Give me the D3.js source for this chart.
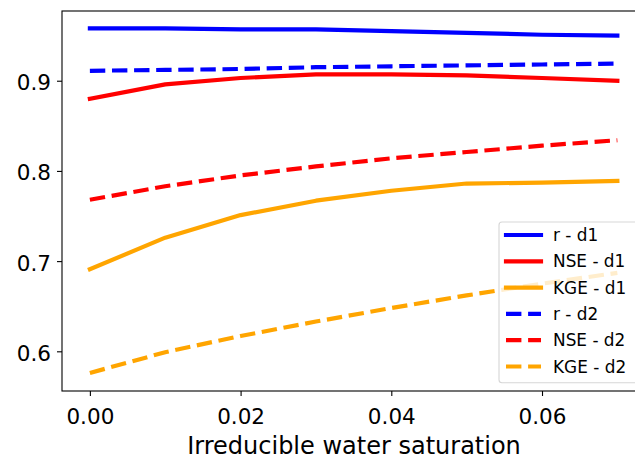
<!DOCTYPE html>
<head>
<meta charset="utf-8">
<title>Irreducible water saturation</title>
<style>
body {
  margin: 0;
  background: #fff;
  font-family: "DejaVu Sans", sans-serif;
}
.axis text {
  font-family: "DejaVu Sans", sans-serif;
  font-size: 21.5px;
  fill: #000;
}
.axis line {
  stroke: #000;
  stroke-width: 1.1;
}
.legend text {
  font-size: 16.9px;
  fill: #000;
}
</style>
<script src="https://d3js.org/d3.v7.min.js"></script>
</head>
<body>
<script>
// data
var saturation = [0, 0.01, 0.02, 0.03, 0.04, 0.05, 0.06, 0.07];
var rD1   = [0.958, 0.958, 0.957, 0.957, 0.955, 0.953, 0.951, 0.950];
var nseD1 = [0.880, 0.896, 0.903, 0.907, 0.907, 0.906, 0.903, 0.900];
var kgeD1 = [0.691, 0.726, 0.751, 0.767, 0.778, 0.786, 0.787, 0.789];
var rD2   = [0.911, 0.912, 0.913, 0.915, 0.916, 0.917, 0.918, 0.919];
var nseD2 = [0.768, 0.783, 0.795, 0.805, 0.814, 0.821, 0.828, 0.834];
var kgeD2 = [0.576, 0.599, 0.617, 0.633, 0.648, 0.662, 0.675, 0.687];
var xTicks = [0, 0.02, 0.04, 0.06];
var yTicks = [0.6, 0.7, 0.8, 0.9];

var series = [
  { name: "r - d1",   values: rD1,   color: "blue",   dashed: false },
  { name: "NSE - d1", values: nseD1, color: "red",    dashed: false },
  { name: "KGE - d1", values: kgeD1, color: "orange", dashed: false },
  { name: "r - d2",   values: rD2,   color: "blue",   dashed: true },
  { name: "NSE - d2", values: nseD2, color: "red",    dashed: true },
  { name: "KGE - d2", values: kgeD2, color: "orange", dashed: true }
];

var width = 635, height = 459;
// plot box (right edge sits past the window, as in the cropped original)
var boxLeft = 62, boxRight = 646, boxTop = 11, boxBottom = 391;

var svg = d3.select("body").append("svg")
    .attr("width", width)
    .attr("height", height);

var xScale = d3.scaleLinear().domain([-0.0037, 0.0738]).range([boxLeft, boxRight]);
var yScale = d3.scaleLinear().domain([0.556, 0.9773]).range([boxBottom, boxTop]);

// lines
var line = d3.line()
    .x(function(d, i) { return xScale(saturation[i]); })
    .y(function(d) { return yScale(d); });

svg.selectAll(".series")
    .data(series)
    .enter().append("path")
    .attr("class", "series")
    .attr("d", function(d) { return line(d.values); })
    .attr("fill", "none")
    .attr("stroke", function(d) { return d.color; })
    .attr("stroke-width", 4.17)
    .attr("stroke-linejoin", "round")
    .attr("stroke-linecap", function(d) { return d.dashed ? "butt" : "square"; })
    .attr("stroke-dasharray", function(d) { return d.dashed ? "15.4,6.7" : null; });

// spines
svg.append("rect")
    .attr("x", boxLeft).attr("y", boxTop)
    .attr("width", boxRight - boxLeft).attr("height", boxBottom - boxTop)
    .attr("fill", "none")
    .attr("stroke", "#000")
    .attr("stroke-width", 1.1);

// axes
var xAxis = d3.axisBottom(xScale)
    .tickValues(xTicks)
    .tickFormat(d3.format(".2f"))
    .tickSize(5)
    .tickSizeOuter(0);
var yAxis = d3.axisLeft(yScale)
    .tickValues(yTicks)
    .tickFormat(d3.format(".1f"))
    .tickSize(5)
    .tickPadding(6)
    .tickSizeOuter(0);

var gx = svg.append("g")
    .attr("class", "axis")
    .attr("transform", "translate(0," + boxBottom + ")")
    .call(xAxis);
gx.select(".domain").remove();
gx.selectAll("text").attr("y", 33).attr("dy", 0);

var gy = svg.append("g")
    .attr("class", "axis")
    .attr("transform", "translate(" + boxLeft + ",0)")
    .call(yAxis);
gy.select(".domain").remove();
gy.selectAll("text").attr("dy", "9px");

svg.append("text")
    .attr("x", (boxLeft + boxRight) / 2)
    .attr("y", 454)
    .attr("text-anchor", "middle")
    .style("font-size", "24px")
    .style("fill", "#000")
    .text("Irreducible water saturation");

// legend
var legend = svg.append("g").attr("class", "legend");
legend.append("rect")
    .attr("x", 499).attr("y", 222)
    .attr("width", 138.7).attr("height", 160.7)
    .attr("rx", 3)
    .attr("fill", "#fff").attr("fill-opacity", 0.8)
    .attr("stroke", "#ccc").attr("stroke-opacity", 0.8)
    .attr("stroke-width", 1.1);

var rows = legend.selectAll(".row")
    .data(series)
    .enter().append("g")
    .attr("class", "row")
    .attr("transform", function(d, i) { return "translate(0," + (235 + i * 26.3) + ")"; });

rows.append("line")
    .attr("x1", 506).attr("x2", 541)
    .attr("stroke", function(d) { return d.color; })
    .attr("stroke-width", 4.17)
    .attr("stroke-linecap", function(d) { return d.dashed ? "butt" : "square"; })
    .attr("stroke-dasharray", function(d) { return d.dashed ? "15.4,6.7" : null; });

rows.append("text")
    .attr("x", 553)
    .attr("dy", "0.36em")
    .text(function(d) { return d.name; });
</script>
</body>
